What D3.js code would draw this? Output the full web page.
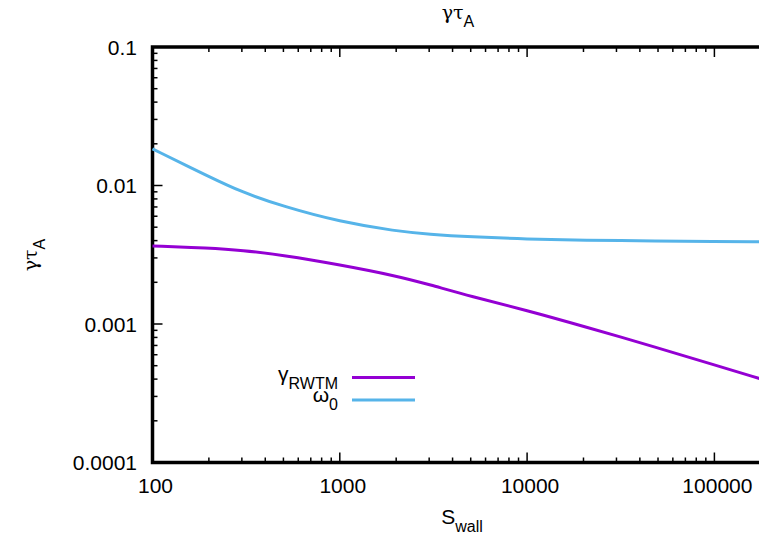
<!DOCTYPE html>
<html>
<head>
<meta charset="utf-8">
<script src="https://cdn.jsdelivr.net/npm/d3@7"></script>
<style>
  body { margin: 0; background: #fff; }
  svg { display: block; font-family: "Liberation Sans", Arial, Helvetica, sans-serif; }
</style>
</head>
<body>
<svg id="main" width="759" height="535"></svg>
<script>
// values
var sWall = [100, 200, 300, 500, 1000, 2000, 3000, 5000, 10000, 20000, 50000, 100000, 175000];
var gammaRWTM = [0.003664, 0.003532, 0.003404, 0.003141, 0.002679, 0.002228, 0.001928, 0.001585, 0.001253, 0.000963, 0.000673, 0.000507, 0.000403];
var omega0 = [0.01837, 0.01161, 0.00895, 0.00705, 0.00547, 0.00468, 0.00445, 0.00426, 0.0041, 0.00403, 0.00397, 0.00394, 0.00392];

var xMajor = [100, 1000, 10000, 100000];
var yMajor = [0.0001, 0.001, 0.01, 0.1];
var xLabels = ["100", "1000", "10000", "100000"];
var yLabels = ["0.0001", "0.001", "0.01", "0.1"];

var svg = d3.select("#main");

// plot box (right side runs off the window like in the picture)
var pLeft = 152.5, pRight = 764, pTop = 47, pBottom = 462.5;

var x = d3.scaleLog().domain([100, 184000]).range([pLeft, pRight]);
var y = d3.scaleLog().domain([0.0001, 0.1]).range([pBottom, pTop]);

// minor ticks 2..9 per decade
function minors(majors){
    var out = [];
    majors.forEach(function(m){
        for (var k = 2; k <= 9; k++) out.push(m * k);
    });
    return out;
}
var xMinor = minors(xMajor).filter(function(v){ return v < 184000; });
var yMinor = minors(yMajor.slice(0, 3));

function tickLines(g, vals, fn){
    g.selectAll("line").data(vals).enter().append("line")
        .attr("stroke", "#000").attr("stroke-width", 1.5)
        .each(function(d){ fn(d3.select(this), d); });
}

var ticks = svg.append("g");
// bottom + top ticks
tickLines(ticks.append("g"), xMajor, function(s, d){ s.attr("x1", x(d)).attr("x2", x(d)).attr("y1", pBottom).attr("y2", pBottom - 10); });
tickLines(ticks.append("g"), xMinor, function(s, d){ s.attr("x1", x(d)).attr("x2", x(d)).attr("y1", pBottom).attr("y2", pBottom - 5); });
tickLines(ticks.append("g"), xMajor, function(s, d){ s.attr("x1", x(d)).attr("x2", x(d)).attr("y1", pTop).attr("y2", pTop + 10); });
tickLines(ticks.append("g"), xMinor, function(s, d){ s.attr("x1", x(d)).attr("x2", x(d)).attr("y1", pTop).attr("y2", pTop + 5); });
// left ticks
tickLines(ticks.append("g"), yMajor, function(s, d){ s.attr("x1", pLeft).attr("x2", pLeft + 10).attr("y1", y(d)).attr("y2", y(d)); });
tickLines(ticks.append("g"), yMinor, function(s, d){ s.attr("x1", pLeft).attr("x2", pLeft + 5).attr("y1", y(d)).attr("y2", y(d)); });

// border
svg.append("path")
    .attr("d", "M" + pRight + "," + pTop + "H" + pLeft + "V" + pBottom + "H" + pRight)
    .attr("fill", "none").attr("stroke", "#000").attr("stroke-width", 3.5);

// tick labels
svg.append("g").selectAll("text").data(xMajor).enter().append("text")
    .attr("x", function(d){ return x(d) + 3; }).attr("y", 493)
    .attr("text-anchor", "middle").style("font-size", "21px")
    .text(function(d, i){ return xLabels[i]; });
svg.append("g").selectAll("text").data(yMajor).enter().append("text")
    .attr("x", 137).attr("y", function(d){ return y(d); })
    .attr("dy", "0.36em")
    .attr("text-anchor", "end").style("font-size", "21px")
    .text(function(d, i){ return yLabels[i]; });

// curves (smoothed through the read points)
var line = d3.line().curve(d3.curveBasis)
    .x(function(d){ return x(d[0]); })
    .y(function(d){ return y(d[1]); });

var series = [
    {name: "gamma", vals: gammaRWTM, color: "#9400d3"},
    {name: "omega", vals: omega0, color: "#56b4e9"}
];
svg.append("g").selectAll("path").data(series).enter().append("path")
    .attr("d", function(s){ return line(sWall.map(function(v, i){ return [v, s.vals[i]]; })); })
    .attr("fill", "none")
    .attr("stroke", function(s){ return s.color; })
    .attr("stroke-width", 3);

// text with a subscript
function subText(g, xPos, yPos, main, sub, anchor, mainFont){
    var t = g.append("text")
        .attr("x", xPos).attr("y", yPos)
        .attr("text-anchor", anchor)
        .style("font-size", "21px");
    t.append("tspan").style("font-family", mainFont || null).text(main);
    t.append("tspan").attr("dy", 7.5).style("font-size", "16px").text(sub);
    return t;
}

// title
subText(svg, 458, 19, "\u03b3\u03c4", "A", "middle", "'DejaVu Serif', serif").style("font-size", "19px");

// axis labels
subText(svg, 462, 524, "S", "wall", "middle");
var yl = svg.append("g").attr("transform", "translate(37,255) rotate(-90)");
subText(yl, 0, 0, "\u03b3\u03c4", "A", "middle", "'DejaVu Serif', serif").style("font-size", "19px");

// legend
var key = [
    {main: "\u03b3", sub: "RWTM", color: "#9400d3", y: 377.5, base: 381},
    {main: "\u03c9", sub: "0", color: "#56b4e9", y: 400, base: 402}
];
key.forEach(function(k){
    subText(svg, 338, k.base, k.main, k.sub, "end");
    svg.append("line")
        .attr("x1", 352).attr("x2", 415)
        .attr("y1", k.y).attr("y2", k.y)
        .attr("stroke", k.color).attr("stroke-width", 3);
});
</script>
</body>
</html>
